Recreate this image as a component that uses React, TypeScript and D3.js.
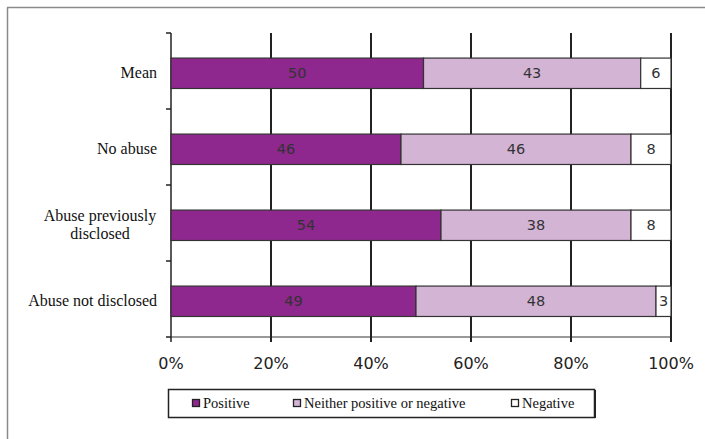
import React from "react";
import * as d3 from "d3";

const categories = ["Mean", "No abuse", "Abuse previously disclosed", "Abuse not disclosed"];
const categoryLines = [["Mean"], ["No abuse"], ["Abuse previously", "disclosed"], ["Abuse not disclosed"]];
const seriesNames = ["Positive", "Neither positive or negative", "Negative"];
const positive = [50, 46, 54, 49];
const neither = [43, 46, 38, 48];
const negative = [6, 8, 8, 3];
const xTicks = [0, 0.2, 0.4, 0.6, 0.8, 1];
const colors = ["#8E278E", "#D3B4D5", "#FFFFFF"];

const W = 705;
const H = 439;

export default function App() {
  const x = d3.scaleLinear().domain([0, 1]).range([171, 671]);
  const y = d3.scaleBand<string>().domain(categories).range([33, 337]).paddingInner(0.6).paddingOuter(0.3).align(0.55);
  const rows = categories.map((c, i) => ({ cat: c, s0: positive[i], s1: neither[i], s2: negative[i] }));
  const stack = d3.stack<any>().keys(["s0", "s1", "s2"]).offset(d3.stackOffsetExpand);
  const stacked = stack(rows);
  const raw = [positive, neither, negative];
  const bandEdges = d3.range(categories.length + 1).map((i) => 33 + ((337 - 33) / categories.length) * i);
  const sans = "DejaVu Sans, Verdana, sans-serif";
  const serif = "Liberation Serif, Times New Roman, Times, serif";
  const legendX = [192, 293, 511];

  return (
    <svg width={W} height={H} style={{ position: "absolute", left: 0, top: 0, background: "#fff" }}>
      <rect x={0} y={0} width={W} height={H} fill="#fff" />
      <line x1={7.5} y1={7.5} x2={7.5} y2={H} stroke="#8a8a8a" strokeWidth={1.5} />
      <line x1={7} y1={7.5} x2={W} y2={7.5} stroke="#8a8a8a" strokeWidth={1.5} />

      <line x1={x(0)} y1={337} x2={x(1)} y2={337} stroke="#777" strokeWidth={1.5} />

      {xTicks.map((t) => (
        <line key={t} x1={x(t)} x2={x(t)} y1={33} y2={342} stroke="#222" strokeWidth={t === 0 ? 1.5 : 2} />
      ))}
      {bandEdges.map((v, i) => (
        <line key={i} x1={166} x2={171} y1={v} y2={v} stroke="#222" strokeWidth={1.5} />
      ))}

      {stacked.map((layer, si) =>
        layer.map((d, ci) => {
          const x0 = x(d[0]);
          const x1 = x(d[1]);
          const yy = y(categories[ci])!;
          return (
            <g key={si + "-" + ci}>
              <rect x={x0} y={yy} width={x1 - x0} height={y.bandwidth()} fill={colors[si]} stroke="#333" strokeWidth={1.2} />
              <text x={(x0 + x1) / 2} y={yy + y.bandwidth() / 2 + 5} textAnchor="middle" fontFamily={sans} fontSize={14.5} fill="#333">
                {raw[si][ci]}
              </text>
            </g>
          );
        })
      )}

      {categories.map((c, i) => {
        const lines = categoryLines[i];
        const cy = y(c)! + y.bandwidth() / 2;
        if (lines.length === 1) {
          return (
            <text key={c} x={157} y={cy + 5} textAnchor="end" style={{ fontFamily: serif }} fontSize={16} fill="#111">
              {lines[0]}
            </text>
          );
        }
        return (
          <text key={c} x={100} textAnchor="middle" style={{ fontFamily: serif }} fontSize={16} fill="#111">
            {lines.map((l, k) => (
              <tspan key={k} x={100} y={cy + 5 - 9 + k * 18}>
                {l}
              </tspan>
            ))}
          </text>
        );
      })}

      {xTicks.map((t) => (
        <text key={t} x={x(t)} y={369} textAnchor="middle" fontFamily={sans} fontSize={16} fill="#222">
          {d3.format(".0%")(t)}
        </text>
      ))}

      <rect x={168.5} y={389.5} width={426} height={28} fill="#fff" stroke="#222" strokeWidth={1.5} />
      <line x1={595} y1={390} x2={595} y2={418} stroke="#222" strokeWidth={2} />
      {seriesNames.map((s, i) => (
        <g key={s}>
          <rect x={legendX[i] + 0.5} y={399.5} width={7} height={7} fill={colors[i]} stroke="#222" strokeWidth={1.3} />
          <text x={legendX[i] + 11} y={408} style={{ fontFamily: serif }} fontSize={14.5} fill="#111">
            {s}
          </text>
        </g>
      ))}
    </svg>
  );
}
